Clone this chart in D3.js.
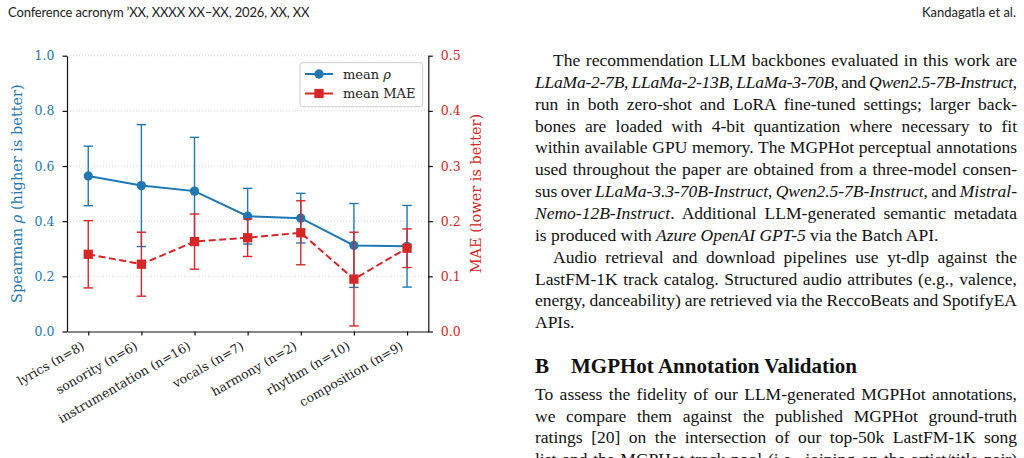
<!DOCTYPE html>
<html>
<head>
<meta charset="utf-8">
<script src="https://cdn.jsdelivr.net/npm/d3@7"></script>
<style>
body { margin:0; width:1024px; height:458px; overflow:hidden; background:#fff; position:relative; }
.hdr { position:absolute; top:4px; font-family:Lato, sans-serif; font-size:13px; color:#222; white-space:nowrap; }
.ln { position:absolute; left:535px; font-family:"Liberation Serif", serif; font-size:17.5px; color:#111; white-space:nowrap; line-height:20px; }
.hd { position:absolute; left:535px; font-family:"Liberation Serif", serif; font-weight:bold; font-size:21px; color:#111; white-space:nowrap; }
#chart { position:absolute; left:0; top:0; }
</style>
</head>
<body>
<div class="hdr" style="left:8px; letter-spacing:-0.15px">Conference acronym ’XX, XXXX XX–XX, 2026, XX, XX</div>
<div class="hdr" style="right:8px">Kandagatla et al.</div>
<svg id="chart" width="512" height="458"></svg>
<script>
var categories = ["lyrics (n=8)", "sonority (n=6)", "instrumentation (n=16)", "vocals (n=7)", "harmony (n=2)", "rhythm (n=10)", "composition (n=9)"];
var rhoMean = [0.564, 0.529, 0.509, 0.418, 0.411, 0.312, 0.309];
var rhoErr  = [0.108, 0.221, 0.195, 0.101, 0.090, 0.152, 0.148];
var maeMean = [0.140, 0.122, 0.163, 0.170, 0.179, 0.095, 0.151];
var maeErr  = [0.061, 0.058, 0.050, 0.034, 0.058, 0.085, 0.035];
var leftTicks = [0.0, 0.2, 0.4, 0.6, 0.8, 1.0];
var rightTicks = [0.0, 0.1, 0.2, 0.3, 0.4, 0.5];

// text column, one entry per printed line; [html, indent, justify]
var block1 = [
    ["The recommendation LLM backbones evaluated in this work are", 18, true],
    ["<i>LLaMa-2-7B</i>, <i>LLaMa-2-13B</i>, <i>LLaMa-3-70B</i>, and <i>Qwen2.5-7B-Instruct</i>,", 0, true],
    ["run in both zero-shot and LoRA fine-tuned settings; larger back-", 0, true],
    ["bones are loaded with 4-bit quantization where necessary to fit", 0, true],
    ["within available GPU memory. The MGPHot perceptual annotations", 0, true],
    ["used throughout the paper are obtained from a three-model consen-", 0, true],
    ["sus over <i>LLaMa-3.3-70B-Instruct</i>, <i>Qwen2.5-7B-Instruct</i>, and <i>Mistral-</i>", 0, true],
    ["<i>Nemo-12B-Instruct</i>. Additional LLM-generated semantic metadata", 0, true],
    ["is produced with <i>Azure OpenAI GPT-5</i> via the Batch API.", 0, false],
    ["Audio retrieval and download pipelines use yt-dlp against the", 18, true],
    ["LastFM-1K track catalog. Structured audio attributes (e.g., valence,", 0, true],
    ["energy, danceability) are retrieved via the ReccoBeats and SpotifyEA", 0, true],
    ["APIs.", 0, false]
];
var block2 = [
    ["To assess the fidelity of our LLM-generated MGPHot annotations,", 0, true],
    ["we compare them against the published MGPHot ground-truth", 0, true],
    ["ratings [20] on the intersection of our top-50k LastFM-1K song", 0, true],
    ["list and the MGPHot track pool (i.e., joining on the artist/title pair)", 0, true]
];

function writeLines(lines, y0, step) {
    var colW = 482;
    lines.forEach(function(l, i) {
        var div = d3.select("body").append("div")
            .attr("class", "ln")
            .style("top", (y0 + i * step - 12) + "px")
            .style("left", (535 + l[1]) + "px")
            .html(l[0]);
        if (!l[2]) return;
        var plain = l[0].replace(/<[^>]+>/g, "");
        var w = div.node().getBoundingClientRect().width;
        var target = colW - l[1];
        var spaces = plain.split(" ").length - 1;
        var gap = (target - w) / spaces;
        if (gap < -1) {
            // too wide: tighten letters a little, then justify the rest on spaces
            div.style("letter-spacing", ((target - w + spaces) / plain.length) + "px");
            w = div.node().getBoundingClientRect().width;
            gap = (target - w) / spaces;
        }
        div.style("word-spacing", gap + "px");
    });
}
writeLines(block1, 62, 21.85);
d3.select("body").append("div").attr("class", "hd")
    .style("top", "354px")
    .html("B<span style='margin-left:22px'>MGPHot Annotation Validation</span>");
writeLines(block2, 396, 21.6);

(function() {
    var blue = "#1f77b4", red = "#d62728";
    var font = "'DejaVu Serif', serif";
    var svg = d3.select("#chart");
    var mLeft = 67, mRight = 428.3, mTop = 55.7, mBottom = 331.5;

    var x = d3.scalePoint().domain(categories).range([mLeft, mRight]).padding(0.4);
    var yL = d3.scaleLinear().domain([0, 1]).range([mBottom, mTop]);
    var yR = d3.scaleLinear().domain([0, 0.5]).range([mBottom, mTop]);

    svg.append("g").selectAll("line")
        .data(leftTicks.slice(1))
        .enter().append("line")
        .attr("x1", mLeft).attr("x2", mRight)
        .attr("y1", function(d) { return yL(d); })
        .attr("y2", function(d) { return yL(d); })
        .attr("stroke", "#c8c8c8")
        .attr("stroke-width", 0.8)
        .attr("stroke-dasharray", "1,2");

    var gl = svg.append("g").attr("transform", "translate(" + mLeft + ",0)")
        .call(d3.axisLeft(yL).tickValues(leftTicks).tickFormat(d3.format(".1f")).tickSize(4.5).tickSizeOuter(0).tickPadding(8));
    gl.selectAll("text").attr("fill", blue).style("font-family", font).style("font-size", "12.5px");

    var gr = svg.append("g").attr("transform", "translate(" + mRight + ",0)")
        .call(d3.axisRight(yR).tickValues(rightTicks).tickFormat(d3.format(".1f")).tickSize(4.5).tickSizeOuter(0).tickPadding(8));
    gr.selectAll("text").attr("fill", red).style("font-family", font).style("font-size", "12.5px");

    var gb = svg.append("g").attr("transform", "translate(0," + mBottom + ")")
        .call(d3.axisBottom(x).tickSize(4).tickSizeOuter(0).tickFormat(""));
    gb.selectAll(".tick").append("text")
        .attr("transform", "translate(-3.5,17) rotate(-30)")
        .attr("text-anchor", "end")
        .attr("fill", "#222")
        .style("font-family", font)
        .style("font-size", "12.5px")
        .text(function(d) { return d; });

    [gl, gr, gb].forEach(function(g) {
        g.selectAll(".domain, line").attr("stroke", "#111").attr("stroke-width", 1.2);
    });

    svg.append("text")
        .attr("transform", "translate(16.5," + ((mTop + mBottom) / 2) + ") rotate(-90)")
        .attr("text-anchor", "middle").attr("dy", "0.35em")
        .attr("fill", blue).style("font-family", font).style("font-size", "14.5px")
        .html("Spearman <tspan font-style='italic'>ρ</tspan> (higher is better)");
    svg.append("text")
        .attr("transform", "translate(476," + ((mTop + mBottom) / 2) + ") rotate(-90)")
        .attr("text-anchor", "middle").attr("dy", "0.35em")
        .attr("fill", red).style("font-family", font).style("font-size", "14.5px")
        .text("MAE (lower is better)");

    function series(means, errs, y, color, dashed, marker) {
        var g = svg.append("g");
        var idx = d3.range(categories.length);
        g.selectAll(".eb").data(idx).enter().append("line")
            .attr("x1", function(i) { return x(categories[i]); })
            .attr("x2", function(i) { return x(categories[i]); })
            .attr("y1", function(i) { return y(means[i] - errs[i]); })
            .attr("y2", function(i) { return y(means[i] + errs[i]); })
            .attr("stroke", color).attr("stroke-width", 1.4);
        [-1, 1].forEach(function(s) {
            g.selectAll(".cap" + s).data(idx).enter().append("line")
                .attr("x1", function(i) { return x(categories[i]) - 4.7; })
                .attr("x2", function(i) { return x(categories[i]) + 4.7; })
                .attr("y1", function(i) { return y(means[i] + s * errs[i]); })
                .attr("y2", function(i) { return y(means[i] + s * errs[i]); })
                .attr("stroke", color).attr("stroke-width", 1.4);
        });
        var line = d3.line()
            .x(function(i) { return x(categories[i]); })
            .y(function(i) { return y(means[i]); });
        g.append("path").datum(idx)
            .attr("d", line)
            .attr("fill", "none").attr("stroke", color).attr("stroke-width", 2)
            .attr("stroke-dasharray", dashed ? "7,3.5" : null);
        g.selectAll(".mk").data(idx).enter().append("path")
            .attr("transform", function(i) { return "translate(" + x(categories[i]) + "," + y(means[i]) + ")"; })
            .attr("d", d3.symbol().type(marker).size(marker === d3.symbolSquare ? 86 : 68))
            .attr("fill", color);
    }
    series(rhoMean, rhoErr, yL, blue, false, d3.symbolCircle);
    series(maeMean, maeErr, yR, red, true, d3.symbolSquare);

    var lg = svg.append("g").attr("transform", "translate(300,62.7)");
    lg.append("rect").attr("width", 122.7).attr("height", 44).attr("rx", 3)
        .attr("fill", "#fff").attr("fill-opacity", 0.8).attr("stroke", "#cccccc");
    var items = [
        {label: "mean <tspan font-style='italic'>ρ</tspan>", color: blue, marker: d3.symbolCircle},
        {label: "mean MAE", color: red, marker: d3.symbolSquare}
    ];
    items.forEach(function(it, i) {
        var row = lg.append("g").attr("transform", "translate(0," + (11.3 + i * 19.5) + ")");
        row.append("line").attr("x1", 5).attr("x2", 33).attr("stroke", it.color).attr("stroke-width", 2);
        row.append("path").attr("transform", "translate(19,0)")
            .attr("d", d3.symbol().type(it.marker).size(it.marker === d3.symbolSquare ? 86 : 68))
            .attr("fill", it.color);
        row.append("text").attr("x", 43).attr("dy", "0.35em")
            .attr("fill", "#222").style("font-family", font).style("font-size", "13px")
            .html(it.label);
    });
})();
</script>
</body>
</html>
